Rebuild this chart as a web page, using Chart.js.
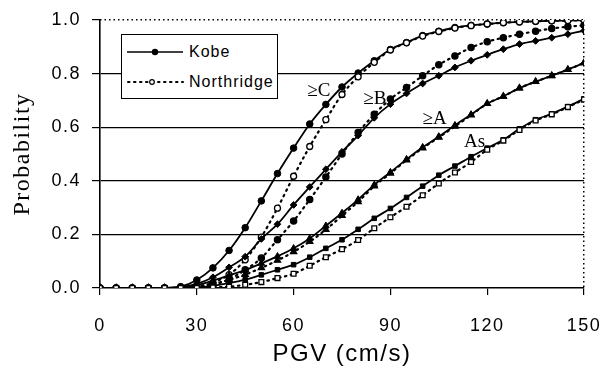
<!DOCTYPE html>
<html>
<head>
<meta charset="utf-8">
<script src="https://cdn.jsdelivr.net/npm/chart.js@4/dist/chart.umd.min.js"></script>
<style>
    html, body { margin: 0; padding: 0; background: #fff; }
    #wrap { position: relative; width: 604px; height: 373px; }
    #legend {
        position: absolute; left: 121px; top: 34px; width: 157px; height: 65px;
        box-sizing: border-box; border: 1.5px solid #000; background: #fff;
        font: 16px "Liberation Sans", Arial, sans-serif; letter-spacing: 1px; color: #000;
    }
    .lg-row { position: absolute; left: 5px; height: 20px; display: flex; align-items: center; }
    .lg-row svg { margin-right: 5px; }
</style>
</head>
<body>
<div id="wrap">
    <canvas id="chart" width="604" height="373"></canvas>
    <div id="legend">
        <div class="lg-row" style="top:7px">
            <svg width="57" height="10"><line x1="0" y1="5" x2="56" y2="5" stroke="#000" stroke-width="1.6"/><circle cx="28" cy="5" r="3.2" fill="#000"/></svg>
            <span>Kobe</span>
        </div>
        <div class="lg-row" style="top:37px">
            <svg width="57" height="10"><line x1="1" y1="5" x2="56" y2="5" stroke="#000" stroke-width="2" stroke-dasharray="1.5 4.5" stroke-linecap="round"/><circle cx="25" cy="5" r="2.3" fill="#fff" stroke="#000" stroke-width="1.2"/></svg>
            <span>Northridge</span>
        </div>
    </div>
</div>
<script>
// PGV (cm/s) sample points
var pgv = [0, 5, 10, 15, 20, 25, 30, 35, 40, 45, 50, 55, 60, 65, 70, 75, 80, 85, 90, 95, 100, 105, 110, 115, 120, 125, 130, 135, 140, 145, 150];

// Kobe (solid lines)
var kobeC  = [0, 0, 0, 0, 0, 0.005, 0.03, 0.075, 0.14, 0.225, 0.325, 0.427, 0.522, 0.612, 0.685, 0.75, 0.802, 0.848, 0.89, 0.916, 0.942, 0.958, 0.972, 0.98, 0.985, 0.99, 0.993, 0.995, 0.997, 0.998, 0.999];
var kobeB  = [0, 0, 0, 0, 0, 0.003, 0.015, 0.04, 0.077, 0.117, 0.183, 0.238, 0.31, 0.377, 0.443, 0.508, 0.569, 0.635, 0.686, 0.726, 0.763, 0.792, 0.823, 0.848, 0.87, 0.891, 0.91, 0.922, 0.934, 0.947, 0.96];
var kobeA  = [0, 0, 0, 0, 0, 0.003, 0.01, 0.027, 0.047, 0.067, 0.092, 0.118, 0.148, 0.185, 0.232, 0.28, 0.33, 0.385, 0.432, 0.48, 0.525, 0.565, 0.607, 0.647, 0.688, 0.715, 0.746, 0.77, 0.792, 0.815, 0.84];
var kobeAs = [0, 0, 0, 0, 0, 0, 0.002, 0.008, 0.018, 0.031, 0.049, 0.068, 0.087, 0.115, 0.148, 0.18, 0.219, 0.26, 0.297, 0.338, 0.38, 0.421, 0.455, 0.49, 0.522, 0.553, 0.594, 0.628, 0.65, 0.677, 0.706];

// Northridge (dotted lines)
var northC  = [0, 0, 0, 0, 0, 0, 0.005, 0.02, 0.05, 0.105, 0.19, 0.298, 0.417, 0.528, 0.628, 0.722, 0.788, 0.842, 0.888, 0.915, 0.94, 0.957, 0.97, 0.979, 0.985, 0.99, 0.993, 0.995, 0.997, 0.998, 0.999];
var northB  = [0, 0, 0, 0, 0, 0, 0.003, 0.012, 0.032, 0.068, 0.112, 0.18, 0.25, 0.33, 0.414, 0.5, 0.58, 0.648, 0.705, 0.748, 0.792, 0.833, 0.866, 0.897, 0.919, 0.934, 0.947, 0.958, 0.968, 0.975, 0.98];
var northA  = [0, 0, 0, 0, 0, 0, 0.005, 0.015, 0.03, 0.05, 0.075, 0.103, 0.135, 0.173, 0.218, 0.27, 0.322, 0.38, 0.428, 0.477, 0.522, 0.562, 0.603, 0.645, 0.688, 0.715, 0.746, 0.77, 0.792, 0.815, 0.84];
var northAs = [0, 0, 0, 0, 0, 0, 0, 0.002, 0.005, 0.012, 0.022, 0.037, 0.053, 0.083, 0.115, 0.145, 0.179, 0.223, 0.264, 0.303, 0.346, 0.39, 0.431, 0.47, 0.516, 0.55, 0.59, 0.625, 0.648, 0.675, 0.703];

var yTicks = [0, 0.2, 0.4, 0.6, 0.8, 1.0];
var xTicks = [0, 30, 60, 90, 120, 150];

// damage state labels placed next to the curves
var curveLabels = [
    { text: '\u2265C', x: 67.8, y: 0.736 },
    { text: '\u2265B', x: 85.2, y: 0.707 },
    { text: '\u2265A', x: 103.7, y: 0.632 },
    { text: 'As', x: 116.1, y: 0.543 }
];

function pts(vals) {
    return pgv.map(function(v, i) { return { x: v, y: vals[i] }; });
}

function kobe(label, vals, style, r) {
    return {
        label: label, data: pts(vals),
        borderColor: '#000', borderWidth: 1.8,
        pointStyle: style, pointRadius: r,
        pointBackgroundColor: '#000', pointBorderColor: '#000', pointBorderWidth: 1,
        cubicInterpolationMode: 'monotone'
    };
}

function north(label, vals, style, r, open) {
    return {
        label: label, data: pts(vals),
        borderColor: '#000', borderWidth: 2.2, borderDash: [1.5, 4.5], borderCapStyle: 'round',
        pointStyle: style, pointRadius: r,
        pointBackgroundColor: open ? '#fff' : '#000', pointBorderColor: '#000', pointBorderWidth: 1.3,
        cubicInterpolationMode: 'monotone'
    };
}

function noPad(s) {
    s.paddingLeft = 0; s.paddingRight = 0; s.paddingTop = 0; s.paddingBottom = 0;
}

var spacing = {
    id: 'spacing',
    beforeLayout: function(c) { c.ctx.letterSpacing = '1.5px'; },
    beforeDraw: function(c) { c.ctx.letterSpacing = '1.5px'; }
};

var labelPlugin = {
    id: 'curveLabels',
    afterDatasetsDraw: function(c) {
        var ctx = c.ctx;
        ctx.save();
        ctx.letterSpacing = '0px';
        ctx.font = '19px "Liberation Serif", "Times New Roman", serif';
        ctx.fillStyle = '#000';
        ctx.textAlign = 'center';
        ctx.textBaseline = 'middle';
        curveLabels.forEach(function(l) {
            ctx.fillText(l.text, c.scales.x.getPixelForValue(l.x), c.scales.y.getPixelForValue(l.y));
        });
        ctx.restore();
    }
};

var tickFont = { family: '"Liberation Sans", Arial, sans-serif', size: 18 };

new Chart(document.getElementById('chart'), {
    type: 'line',
    data: {
        datasets: [
            north('Northridge As', northAs, 'rect', 3.4, true),
            kobe('Kobe As', kobeAs, 'rect', 3.2),
            north('Northridge \u2265A', northA, 'triangle', 3.6, false),
            kobe('Kobe \u2265A', kobeA, 'triangle', 3.8),
            north('Northridge \u2265B', northB, 'circle', 3.1, false),
            kobe('Kobe \u2265B', kobeB, 'rectRot', 3.4),
            north('Northridge \u2265C', northC, 'circle', 3, true),
            kobe('Kobe \u2265C', kobeC, 'circle', 3.3)
        ]
    },
    plugins: [spacing, labelPlugin],
    options: {
        responsive: false,
        animation: false,
        devicePixelRatio: 1,
        layout: { padding: { left: 0, top: 20, right: 20, bottom: 0 } },
        plugins: { legend: { display: false }, tooltip: { enabled: false } },
        scales: {
            x: {
                type: 'linear', min: 0, max: 150,
                afterBuildTicks: function(s) { s.ticks = xTicks.map(function(v) { return { value: v }; }); },
                afterFit: function(s) { s.height = 85; noPad(s); },
                ticks: { color: '#000', font: tickFont, padding: 20, maxRotation: 0 },
                grid: { drawOnChartArea: false, color: '#000', tickLength: 7, lineWidth: 1.2 },
                border: { color: '#000', width: 1.6 },
                title: {
                    display: true, text: 'PGV (cm/s)', color: '#000',
                    font: { family: '"Liberation Sans", Arial, sans-serif', size: 24 },
                    padding: { top: 0, bottom: 4 }
                }
            },
            y: {
                min: 0, max: 1,
                afterBuildTicks: function(s) { s.ticks = yTicks.map(function(v) { return { value: v }; }); },
                afterFit: function(s) { s.width = 100; noPad(s); },
                ticks: { color: '#000', font: tickFont, padding: 11, callback: function(v) { return v.toFixed(1); } },
                grid: {
                    color: function(ctx) { return (ctx.tick && (ctx.tick.value === 0 || ctx.tick.value === 1)) ? 'rgba(0,0,0,0)' : '#000'; },
                    tickColor: '#000', tickLength: 8, lineWidth: 1.2
                },
                border: { color: '#000', width: 1.6 },
                title: {
                    display: true, text: 'Probability', color: '#000',
                    font: { family: '"Liberation Serif", "Times New Roman", serif', size: 24 },
                    padding: { top: 8, bottom: 0 }
                }
            },
            // dotted frame: top line at 1.0 and right line at 150
            x2: {
                type: 'linear', position: 'top', min: 0, max: 150,
                afterBuildTicks: function(s) { s.ticks = [{ value: 150 }]; },
                afterFit: function(s) { s.height = 0; noPad(s); },
                ticks: { display: false },
                grid: { color: '#000', lineWidth: 1.5, drawTicks: false },
                border: { display: false, dash: [1.5, 3] }
            },
            y2: {
                type: 'linear', position: 'right', min: 0, max: 1,
                afterBuildTicks: function(s) { s.ticks = [{ value: 1 }]; },
                afterFit: function(s) { s.width = 0; noPad(s); },
                ticks: { display: false },
                grid: { color: '#000', lineWidth: 1.5, drawTicks: false },
                border: { display: false, dash: [1.5, 3] }
            }
        }
    }
});
</script>
</body>
</html>
